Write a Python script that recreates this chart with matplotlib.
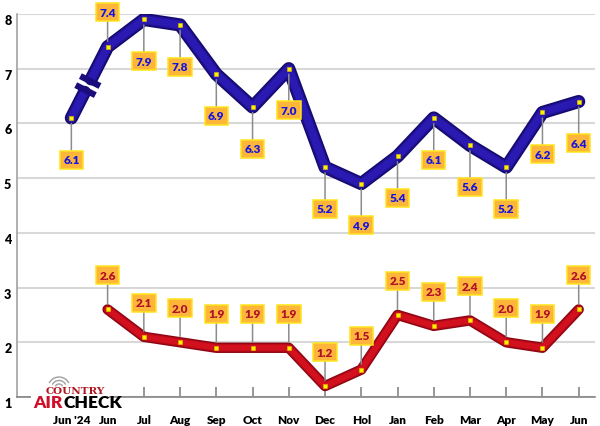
import numpy as np
import matplotlib

matplotlib.use("Agg")
import matplotlib.pyplot as plt
import matplotlib.patheffects as pe
from matplotlib.patches import Arc, Rectangle

months = ["Jun '24", "Jun", "Jul", "Aug", "Sep", "Oct", "Nov", "Dec",
          "Hol", "Jan", "Feb", "Mar", "Apr", "May", "Jun"]
blue_vals = [6.1, 7.4, 7.9, 7.8, 6.9, 6.3, 7.0, 5.2, 4.9, 5.4, 6.1, 5.6, 5.2, 6.2, 6.4]
red_vals = [np.nan, 2.6, 2.1, 2.0, 1.9, 1.9, 1.9, 1.2, 1.5, 2.5, 2.3, 2.4, 2.0, 1.9, 2.6]
blue_above = [False, True] + [False] * 13
yticks = [1, 2, 3, 4, 5, 6, 7, 8]

FONT = ["Lato", "DejaVu Sans"]
plt.rcParams["font.family"] = FONT

W, H = 600, 427
fig = plt.figure(figsize=(6.0, 4.27), dpi=100)
ax = fig.add_axes([17 / W, 1 - 398 / H, 578 / W, 383 / H])
ax.set_xlim(-1.5, 14.45)
ax.set_ylim(1, 8)

for s in ("top", "right"):
    ax.spines[s].set_visible(False)
ax.spines["left"].set_color("#9a9a9a")
ax.spines["left"].set_linewidth(1.1)
ax.spines["bottom"].set_color("#7a7a7a")
ax.spines["bottom"].set_linewidth(1.1)

ax.set_yticks(yticks)
ax.set_yticklabels([str(t) for t in yticks], fontsize=9, fontweight="heavy")
for lbl in ax.get_yticklabels():
    lbl.set_va("top")
ax.tick_params(axis="y", length=0, pad=4)
ax.set_xticks(range(len(months)))
ax.set_xticklabels(months, fontsize=8.5, fontweight="heavy")
ax.tick_params(axis="x", direction="in", length=7, width=1.1, color="#7a7a7a", pad=12)
ax.grid(axis="y", color="#d8d8d8", linewidth=1.5)
ax.set_axisbelow(True)

x = np.arange(len(months))
b = np.array(blue_vals)
r = np.array(red_vals)


def tube(xs, ys, dark, light, lw):
    ax.plot(xs, ys, color=light, lw=lw * 0.55, solid_capstyle="round",
            solid_joinstyle="round", zorder=3,
            path_effects=[pe.Stroke(linewidth=lw, foreground=dark),
                          pe.Stroke(linewidth=lw * 0.75, foreground=light, alpha=0.6),
                          pe.Normal()])


BLUE_D, BLUE_L = "#150a70", "#2a1ab2"
RED_D, RED_L = "#8e0512", "#d3101e"

# blue line with break between first two points
f0, f1 = 0.36, 0.55
pa = (x[0] + f0 * (x[1] - x[0]), b[0] + f0 * (b[1] - b[0]))
pb = (x[0] + f1 * (x[1] - x[0]), b[0] + f1 * (b[1] - b[0]))
tube([x[0], pa[0]], [b[0], pa[1]], BLUE_D, BLUE_L, 9.5)
tube(np.r_[pb[0], x[1:]], np.r_[pb[1], b[1:]], BLUE_D, BLUE_L, 9.5)
tube(x[1:], r[1:], RED_D, RED_L, 7.5)

# break bars perpendicular to the segment
d0 = ax.transData.transform((x[0], b[0]))
d1 = ax.transData.transform((x[1], b[1]))
u = (d1 - d0) / np.hypot(*(d1 - d0))
nrm = np.array([-u[1], u[0]])
inv = ax.transData.inverted()
for p, shift in ((pa, 2.5), (pb, -2.5)):
    c = ax.transData.transform(p) + u * shift
    ends = inv.transform([c - nrm * 11, c + nrm * 11])
    ax.plot(ends[:, 0], ends[:, 1], color="#1a0c7c", lw=4.5,
            solid_capstyle="butt", zorder=4)

ax.plot(x, b, ls="none", marker="s", ms=3, mfc="#fff200", mec="#e0c000",
        mew=0.4, zorder=5)
ax.plot(x[1:], r[1:], ls="none", marker="s", ms=3, mfc="#fff200", mec="#e0c000",
        mew=0.4, zorder=5)

box = dict(boxstyle="square,pad=0.3", fc="#fdb63a", ec="#ffe41c", lw=1.1)


def tag(i, v, dy, color):
    ax.annotate(f"{v:.1f}", xy=(i, v), xytext=(0, dy), textcoords="offset points",
                ha="center", va="center", fontsize=8.5, fontweight="heavy",
                color=color, bbox=box, zorder=6, annotation_clip=False,
                arrowprops=dict(arrowstyle="-", color="#8c8c8c", lw=1.1,
                                shrinkA=0, shrinkB=4))


for i, v in enumerate(blue_vals):
    tag(i, v, 25 if blue_above[i] else -30, "#1414e0")
for i, v in enumerate(red_vals):
    if not np.isnan(v):
        tag(i, v, 24.5, "#b0102a")

# logo
fig.add_artist(Rectangle((31 / W, 1 - 412 / H), 78 / W, 36 / H,
                         transform=fig.transFigure, fc="white", ec="none", zorder=8))
for rad in (4, 7.5, 11):
    fig.add_artist(Arc((59 / W, 1 - 389 / H), 2 * rad / W, 2 * rad / H,
                       theta1=35, theta2=145, transform=fig.transFigure,
                       color="#a0a0a0", lw=1.0, zorder=9))
fig.text(75 / W, 1 - 392 / H, "COUNTRY", ha="center", va="center",
         fontsize=7.5, fontweight="bold", family="DejaVu Serif", color="#b0141e",
         zorder=9)
fig.text(63 / W, 1 - 403.5 / H, "AIR", ha="right", va="center", fontsize=12.5,
         fontweight="heavy", color="#d0102a", zorder=9)
fig.text(63 / W, 1 - 403.5 / H, "CHECK", ha="left", va="center", fontsize=12.5,
         fontweight="heavy", color="black", zorder=9)

fig.savefig("out.png", dpi=100)
